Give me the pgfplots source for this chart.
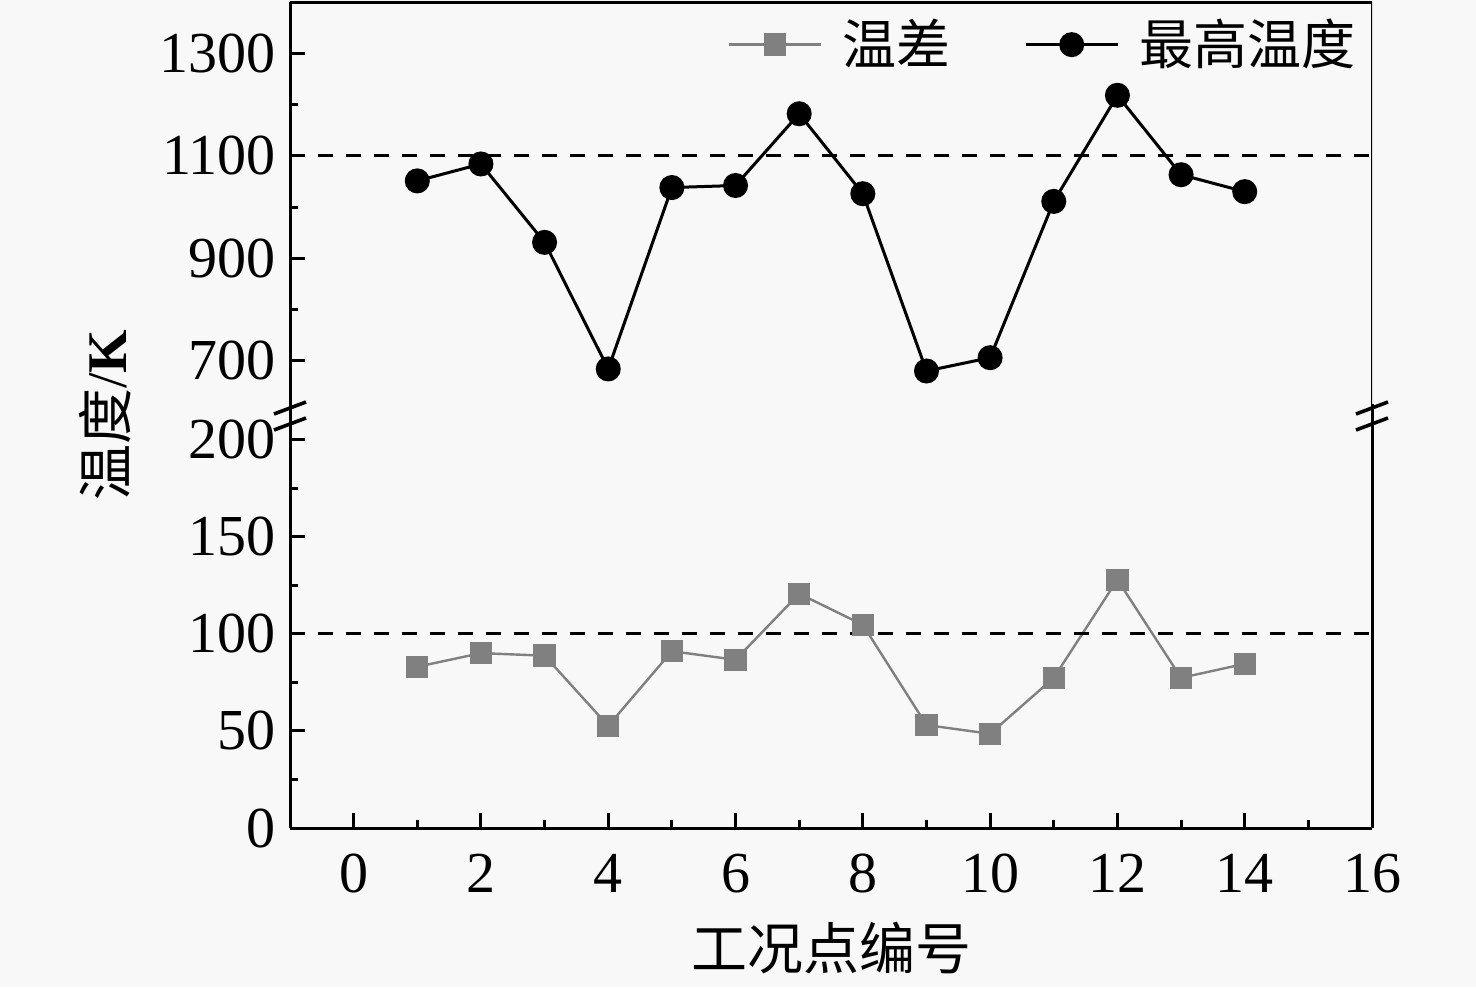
\documentclass[border=0pt]{standalone}
\usepackage{fontspec}
\setmainfont{Liberation Serif}
\newfontfamily\cjk{Noto Sans CJK SC}
\usepackage{pgfplots}
\pgfplotsset{compat=1.18}
\definecolor{bg}{RGB}{248,248,248}
\definecolor{sgray}{RGB}{128,128,128}
\begin{document}
\begin{tikzpicture}
\path[use as bounding box, fill=bg] (-72.5pt,-39.75pt) rectangle (296.5pt,207pt);
\pgfplotsset{
  common/.style={
    scale only axis,
    width=270.5pt,
    xmin=-1, xmax=16,
    axis line style={line width=0.75pt,-},
    tick align=inside,
    tick style={line width=0.75pt, black},
    major tick length=3.75pt,
    minor tick length=2pt,
    tick label style={font=\fontsize{14.5}{17}\selectfont},
    /pgf/number format/assume math mode=true,
    /pgf/number format/1000 sep={},
  }
}
% lower axis
\begin{axis}[common,
  at={(0,0)}, anchor=south west,
  height=102pt,
  ymin=0, ymax=210,
  axis x line*=bottom, axis y line*=left,
  xtick={0,2,...,16}, minor xtick={1,3,...,15},
  ytick={0,50,100,150,200}, minor ytick={25,75,125,175},
  xticklabel style={yshift=-3pt},
  clip=false,
]
\addplot[sgray, line width=0.6pt, mark=square*, mark size=2.5pt, mark options={fill=sgray, draw=sgray}] coordinates {
(1,83) (2,90) (3,88.7) (4,52.6) (5,91) (6,86.6) (7,120.6) (8,104.6) (9,53) (10,48.5) (11,77.3) (12,127.8) (13,77.3) (14,84.5)};
\draw[black, line width=0.8pt, dash pattern=on 3.75pt off 3.25pt] (axis cs:-1,100) -- (axis cs:16,100);
\draw[line width=0.75pt] (rel axis cs:1,0) -- (rel axis cs:1,1);
\end{axis}
% upper axis
\begin{axis}[common,
  at={(0,104pt)}, anchor=south west,
  height=102.5pt,
  ymin=600, ymax=1400,
  axis x line*=top, axis y line*=left,
  xtick=\empty,
  ytick={700,900,1100,1300}, minor ytick={800,1000,1200},
  legend style={draw=none, fill=none, at={(1,1)}, xshift=1pt, anchor=north east,
    font=\cjk\fontsize{13.5}{16}\selectfont, legend columns=2,
    /tikz/every even column/.append style={column sep=16.5pt},
    /tikz/every odd column/.append style={column sep=3pt}},
  legend cell align=left,
  legend image code/.code={\draw[mark repeat=2,mark phase=2] plot coordinates {(0pt,0pt) (11.5pt,0pt) (23pt,0pt)};},
]
\addlegendimage{sgray, line width=0.6pt, mark=square*, mark size=2.5pt, mark options={fill=sgray, draw=sgray}}
\addlegendentry{温差}
\addplot[black, line width=0.75pt, mark=*, mark size=2.75pt, mark options={fill=black}] coordinates {
(1,1051) (2,1084) (3,931) (4,684) (5,1038) (6,1042) (7,1182) (8,1026) (9,680) (10,706) (11,1011) (12,1218) (13,1063) (14,1030)};
\addlegendentry{最高温度}
\draw[black, line width=0.8pt, dash pattern=on 3.75pt off 3.25pt] (axis cs:-1,1100) -- (axis cs:16,1100);
\draw[line width=0.75pt] (rel axis cs:1,0) -- (rel axis cs:1,1);
\end{axis}
% spine continuation through gap
\draw[line width=0.75pt] (0,101pt) -- (0,105pt);
\draw[line width=0.75pt] (270.5pt,101pt) -- (270.5pt,105pt);
% break marks
\foreach \xx in {0pt,270.5pt}{
  \fill[bg] ([xshift=-4pt]\xx,100pt) rectangle ([xshift=4pt]\xx,106pt);
  \draw[line width=0.75pt] (\xx,100pt) -- (\xx,106pt);
  \draw[line width=0.9pt] ([xshift=-4pt]\xx,103.5pt) -- ([xshift=4pt]\xx,106.5pt);
  \draw[line width=0.9pt] ([xshift=-4pt]\xx,99.5pt) -- ([xshift=4pt]\xx,102.5pt);
}
\node[rotate=90, font=\fontsize{14}{16}\selectfont] at (-46.25pt,103.25pt) {{\cjk 温度}/\textbf{K}};
\node[font=\cjk\fontsize{14}{16}\selectfont] at (135.25pt,-30pt) {工况点编号};
\end{tikzpicture}
\end{document}
